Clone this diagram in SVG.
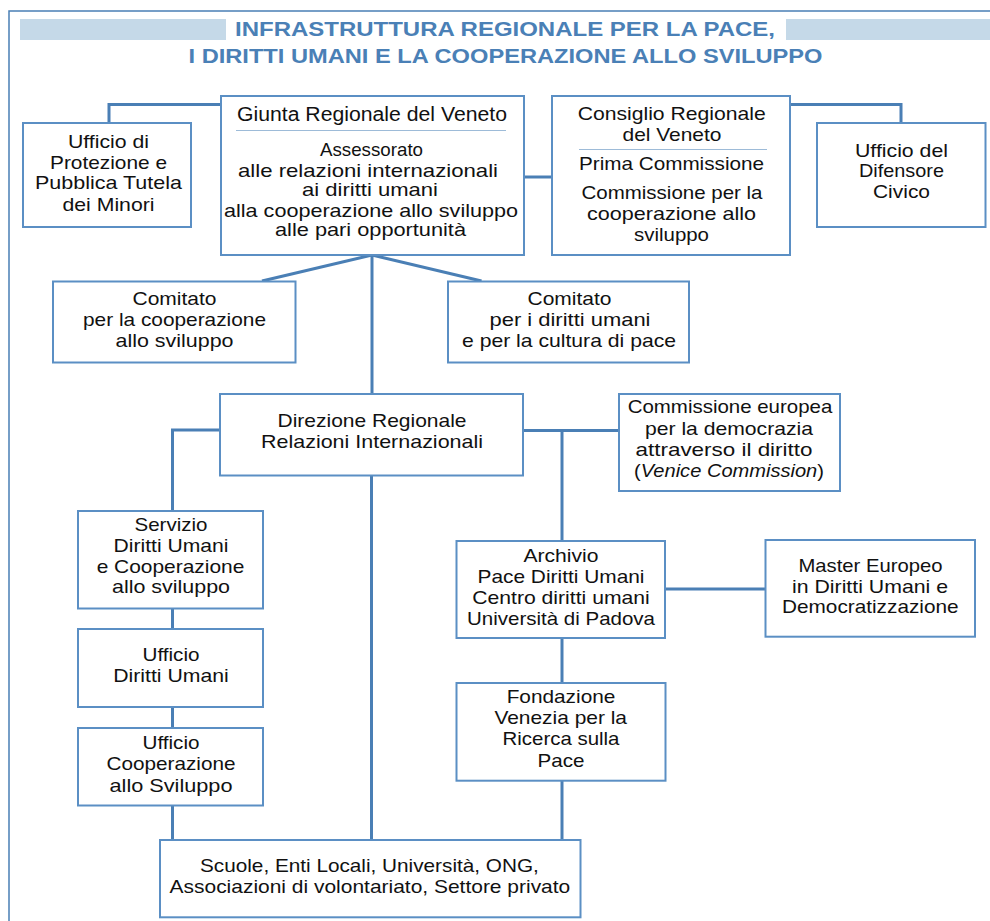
<svg xmlns="http://www.w3.org/2000/svg" width="990" height="921" viewBox="0 0 990 921">
<style>
.box{fill:#fff;stroke:#5b8fc4;stroke-width:2}
.sep{stroke:#9dbbd8;stroke-width:1.2}
.t{font-family:"Liberation Sans",Arial,sans-serif;font-size:18.5px;fill:#111;text-anchor:middle}
.big{font-size:20px}
.title{font-family:"Liberation Sans",Arial,sans-serif;font-weight:bold;font-size:21px;fill:#4a80b6;text-anchor:middle}
.conn{fill:none;stroke:#4a7fb5;stroke-width:3}
.bar{fill:#c5d9e8}
</style>
<rect width="990" height="921" fill="#fff"/>
<path d="M9,921 V11 H990" fill="none" stroke="#4a7fb5" stroke-width="1.5"/>
<g id="title">
<rect class="bar" x="20" y="19" width="206" height="21"/>
<rect class="bar" x="786" y="19" width="204" height="21"/>
<text class="title" x="505" y="36" textLength="540" lengthAdjust="spacingAndGlyphs">INFRASTRUTTURA REGIONALE PER LA PACE,</text>
<text class="title" x="505.5" y="63" textLength="634" lengthAdjust="spacingAndGlyphs">I DIRITTI UMANI E LA COOPERAZIONE ALLO SVILUPPO</text>
</g>
<g id="connectors">
<path class="conn" d="M221,104.5 H109 V123"/>
<path class="conn" d="M524,177 H552"/>
<path class="conn" d="M790,104.5 H901 V123"/>
<path class="conn" d="M372,255 L262,281"/>
<path class="conn" d="M372,255 L481.5,281"/>
<path class="conn" d="M372,255 V394"/>
<path class="conn" d="M220,430 H172.5 V511"/>
<path class="conn" d="M172.5,608.5 V629"/>
<path class="conn" d="M172.5,707 V728"/>
<path class="conn" d="M172.5,805.5 V840"/>
<path class="conn" d="M371.5,475.5 V840"/>
<path class="conn" d="M523,430.5 H619"/>
<path class="conn" d="M562,430.5 V541"/>
<path class="conn" d="M665,589 H765.5"/>
<path class="conn" d="M562,638 V683"/>
<path class="conn" d="M562,780.7 V840"/>
</g>
<g id="ufficio-protezione">
<rect class="box" x="23" y="123" width="168" height="104"/>
<text class="t" x="108.5" y="147.5" textLength="81" lengthAdjust="spacingAndGlyphs">Ufficio di</text>
<text class="t" x="108.5" y="168.5" textLength="117" lengthAdjust="spacingAndGlyphs">Protezione e</text>
<text class="t" x="108.5" y="189" textLength="147" lengthAdjust="spacingAndGlyphs">Pubblica Tutela</text>
<text class="t" x="108.5" y="210.5" textLength="92" lengthAdjust="spacingAndGlyphs">dei Minori</text>
</g>
<g id="giunta">
<rect class="box" x="221" y="96" width="303" height="159"/>
<text class="t big" x="372" y="121" textLength="270" lengthAdjust="spacingAndGlyphs">Giunta Regionale del Veneto</text>
<line class="sep" x1="236" y1="130.5" x2="506" y2="130.5"/>
<text class="t" x="371.5" y="156" textLength="103" lengthAdjust="spacingAndGlyphs">Assessorato</text>
<text class="t" x="368" y="177" textLength="260" lengthAdjust="spacingAndGlyphs">alle relazioni internazionali</text>
<text class="t" x="370" y="196" textLength="136" lengthAdjust="spacingAndGlyphs">ai diritti umani</text>
<text class="t" x="371" y="216.5" textLength="294" lengthAdjust="spacingAndGlyphs">alla cooperazione allo sviluppo</text>
<text class="t" x="370.5" y="236" textLength="191" lengthAdjust="spacingAndGlyphs">alle pari opportunità</text>
</g>
<g id="consiglio">
<rect class="box" x="552" y="96" width="238" height="159"/>
<text class="t" x="671.7" y="120" textLength="188" lengthAdjust="spacingAndGlyphs">Consiglio Regionale</text>
<text class="t" x="672" y="140.5" textLength="99" lengthAdjust="spacingAndGlyphs">del Veneto</text>
<line class="sep" x1="579" y1="149.5" x2="767" y2="149.5"/>
<text class="t" x="671.5" y="170" textLength="185" lengthAdjust="spacingAndGlyphs">Prima Commissione</text>
<text class="t" x="672" y="199" textLength="181" lengthAdjust="spacingAndGlyphs">Commissione per la</text>
<text class="t" x="671.5" y="219.5" textLength="169" lengthAdjust="spacingAndGlyphs">cooperazione allo</text>
<text class="t" x="671.5" y="240.5" textLength="75" lengthAdjust="spacingAndGlyphs">sviluppo</text>
</g>
<g id="difensore">
<rect class="box" x="817" y="123" width="168.5" height="104"/>
<text class="t" x="901.5" y="156.5" textLength="93" lengthAdjust="spacingAndGlyphs">Ufficio del</text>
<text class="t" x="901.5" y="177.3" textLength="85" lengthAdjust="spacingAndGlyphs">Difensore</text>
<text class="t" x="901.5" y="198.3" textLength="57" lengthAdjust="spacingAndGlyphs">Civico</text>
</g>
<g id="comitato-cooperazione">
<rect class="box" x="53" y="281.5" width="242.5" height="81"/>
<text class="t" x="174.5" y="304.5" textLength="84" lengthAdjust="spacingAndGlyphs">Comitato</text>
<text class="t" x="174.5" y="326" textLength="183" lengthAdjust="spacingAndGlyphs">per la cooperazione</text>
<text class="t" x="174.5" y="347" textLength="118" lengthAdjust="spacingAndGlyphs">allo sviluppo</text>
</g>
<g id="comitato-diritti">
<rect class="box" x="448" y="281.5" width="241" height="81"/>
<text class="t" x="569.5" y="304.5" textLength="84" lengthAdjust="spacingAndGlyphs">Comitato</text>
<text class="t" x="570" y="326" textLength="161" lengthAdjust="spacingAndGlyphs">per i diritti umani</text>
<text class="t" x="569" y="347" textLength="214" lengthAdjust="spacingAndGlyphs">e per la cultura di pace</text>
</g>
<g id="direzione">
<rect class="box" x="220" y="394" width="303" height="81.5"/>
<text class="t" x="372" y="426.7" textLength="189" lengthAdjust="spacingAndGlyphs">Direzione Regionale</text>
<text class="t" x="372" y="448.3" textLength="222" lengthAdjust="spacingAndGlyphs">Relazioni Internazionali</text>
</g>
<g id="venice-commission">
<rect class="box" x="619" y="394" width="221" height="97"/>
<text class="t" x="730" y="413.3" textLength="204.6" lengthAdjust="spacingAndGlyphs">Commissione europea</text>
<text class="t" x="729" y="435" textLength="168" lengthAdjust="spacingAndGlyphs">per la democrazia</text>
<text class="t" x="724" y="456" textLength="177" lengthAdjust="spacingAndGlyphs">attraverso il diritto</text>
<text class="t" x="729" y="477.3" textLength="190" lengthAdjust="spacingAndGlyphs">(<tspan font-style="italic">Venice Commission</tspan>)</text>
</g>
<g id="servizio">
<rect class="box" x="78" y="511" width="185" height="97.5"/>
<text class="t" x="171" y="530.7" textLength="73" lengthAdjust="spacingAndGlyphs">Servizio</text>
<text class="t" x="171" y="552.3" textLength="115" lengthAdjust="spacingAndGlyphs">Diritti Umani</text>
<text class="t" x="170.5" y="573.3" textLength="147.7" lengthAdjust="spacingAndGlyphs">e Cooperazione</text>
<text class="t" x="171" y="593.3" textLength="118" lengthAdjust="spacingAndGlyphs">allo sviluppo</text>
</g>
<g id="ufficio-diritti">
<rect class="box" x="78" y="629" width="185" height="78"/>
<text class="t" x="171" y="660.7" textLength="57" lengthAdjust="spacingAndGlyphs">Ufficio</text>
<text class="t" x="171" y="681.7" textLength="115.6" lengthAdjust="spacingAndGlyphs">Diritti Umani</text>
</g>
<g id="ufficio-cooperazione">
<rect class="box" x="78" y="728" width="185" height="77.5"/>
<text class="t" x="171" y="749" textLength="57" lengthAdjust="spacingAndGlyphs">Ufficio</text>
<text class="t" x="171" y="770" textLength="129" lengthAdjust="spacingAndGlyphs">Cooperazione</text>
<text class="t" x="171" y="791.7" textLength="123" lengthAdjust="spacingAndGlyphs">allo Sviluppo</text>
</g>
<g id="archivio">
<rect class="box" x="456.5" y="541" width="208.5" height="97"/>
<text class="t" x="561" y="561.7" textLength="75" lengthAdjust="spacingAndGlyphs">Archivio</text>
<text class="t" x="561" y="583.3" textLength="167" lengthAdjust="spacingAndGlyphs">Pace Diritti Umani</text>
<text class="t" x="561" y="604" textLength="177.5" lengthAdjust="spacingAndGlyphs">Centro diritti umani</text>
<text class="t" x="561" y="625" textLength="188" lengthAdjust="spacingAndGlyphs">Università di Padova</text>
</g>
<g id="master">
<rect class="box" x="765.5" y="540" width="209.5" height="96.7"/>
<text class="t" x="870.5" y="572.3" textLength="144" lengthAdjust="spacingAndGlyphs">Master Europeo</text>
<text class="t" x="870" y="592.7" textLength="156" lengthAdjust="spacingAndGlyphs">in Diritti Umani e</text>
<text class="t" x="870.3" y="613.3" textLength="176.6" lengthAdjust="spacingAndGlyphs">Democratizzazione</text>
</g>
<g id="fondazione">
<rect class="box" x="456.5" y="683" width="209" height="97.7"/>
<text class="t" x="561" y="703.3" textLength="108.7" lengthAdjust="spacingAndGlyphs">Fondazione</text>
<text class="t" x="560.7" y="724" textLength="132.6" lengthAdjust="spacingAndGlyphs">Venezia per la</text>
<text class="t" x="561" y="745" textLength="117" lengthAdjust="spacingAndGlyphs">Ricerca sulla</text>
<text class="t" x="561" y="766.7" textLength="47" lengthAdjust="spacingAndGlyphs">Pace</text>
</g>
<g id="scuole">
<rect class="box" x="160" y="840" width="420.5" height="77.3"/>
<text class="t" x="369.4" y="871.7" textLength="338.8" lengthAdjust="spacingAndGlyphs">Scuole, Enti Locali, Università, ONG,</text>
<text class="t" x="369.9" y="892.7" textLength="400.7" lengthAdjust="spacingAndGlyphs">Associazioni di volontariato, Settore privato</text>
</g>
</svg>
